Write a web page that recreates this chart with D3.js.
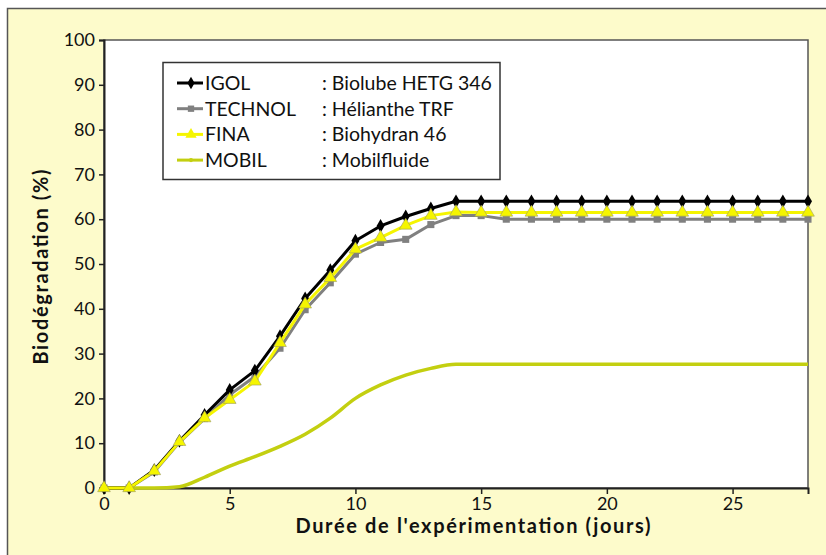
<!DOCTYPE html>
<html><head><meta charset="utf-8">
<script src="https://cdn.jsdelivr.net/npm/d3@7"></script>
<style>body{margin:0;background:#fff}svg{display:block}</style>
</head><body>
<svg id="c" width="826" height="555"></svg>
<script>
const days = d3.range(0, 29);
const igol    = [0,0,4,10.5,16.3,21.9,26.2,33.9,42.3,48.6,55.2,58.5,60.6,62.4,64,64,64,64,64,64,64,64,64,64,64,64,64,64,64];
const technol = [0,0,3.6,10.2,15.5,20.8,24.9,31.2,39.8,45.8,52.2,54.8,55.5,58.8,60.8,60.8,60,60,60,60,60,60,60,60,60,60,60,60,60];
const fina    = [0,0,3.8,10.3,15.6,19.7,23.8,32.4,41,46.9,53.3,55.9,58.6,60.8,61.6,61.5,61.5,61.5,61.5,61.5,61.5,61.5,61.5,61.5,61.5,61.5,61.5,61.5,61.5];
const mobil   = [0,0,0,0.3,2.4,4.9,7,9.3,12,15.6,20,23,25.2,26.7,27.6,27.6,27.6,27.6,27.6,27.6,27.6,27.6,27.6,27.6,27.6,27.6,27.6,27.6,27.6];
const names = ["IGOL","TECHNOL","FINA","MOBIL"];
const products = [": Biolube HETG 346",": Hélianthe TRF",": Biohydran 46",": Mobilfluide"];
const xTicks = [0,5,10,15,20,25];
const yTicks = [0,10,20,30,40,50,60,70,80,90,100];

const svg = d3.select("#c");
const FONT = "Lato, 'Open Sans', sans-serif";
svg.append("rect").attr("x",0).attr("y",0).attr("width",826).attr("height",555).attr("fill","#fff");
svg.append("rect").attr("x",7.5).attr("y",8.5).attr("width",830).attr("height",560)
  .attr("fill","#FDFBCB").attr("stroke","#555").attr("stroke-width",1.5);

const L=104,R=808,T=40,B=488;
const x = d3.scaleLinear().domain([0,28]).range([L,R]);
const y = d3.scaleLinear().domain([0,100]).range([B,T]);

svg.append("rect").attr("x",L).attr("y",T).attr("width",R-L).attr("height",B-T)
  .attr("fill","#fff").attr("stroke","#555").attr("stroke-width",1.5);

// axes
const gx = svg.append("g").attr("transform",`translate(0,${B})`)
  .call(d3.axisBottom(x).tickValues(xTicks).tickSize(6).tickPadding(3).tickFormat(d3.format("d")));
const gy = svg.append("g").attr("transform",`translate(${L},0)`)
  .call(d3.axisLeft(y).tickValues(yTicks).tickSize(5).tickPadding(4).tickFormat(d3.format("d")));
[gx,gy].forEach(g=>{
  g.select(".domain").attr("stroke","#222").attr("stroke-width",2);
  g.selectAll(".tick line").attr("stroke","#222").attr("stroke-width",1.5);
  g.selectAll("text").attr("font-family",FONT).attr("font-size",18).attr("fill","#111");
});

svg.append("text").attr("x",473).attr("y",533).attr("text-anchor","middle")
  .attr("font-family",FONT).attr("font-weight","bold").attr("font-size",20).attr("fill","#111")
  .attr("textLength",355).attr("lengthAdjust","spacing")
  .text("Durée de l'expérimentation (jours)");
svg.append("text").attr("transform",`translate(48,${(T+B)/2 + 3}) rotate(-90)`).attr("text-anchor","middle")
  .attr("font-family",FONT).attr("font-weight","bold").attr("font-size",20).attr("fill","#111")
  .attr("textLength",195).attr("lengthAdjust","spacing")
  .text("Biodégradation (%)");

const series = [
  {v:mobil, color:"#C3CF10", marker:null, curve:d3.curveMonotoneX, w:3.5},
  {v:technol, color:"#808080", marker:d3.symbolSquare, size:50, curve:d3.curveLinear, w:3},
  {v:igol, color:"#000000", marker:d3.symbolDiamond, size:55, curve:d3.curveLinear, w:3},
  {v:fina, color:"#F5F500", marker:d3.symbolTriangle, size:70, curve:d3.curveLinear, w:3},
];
const line = d3.line();
series.forEach(s=>{
  const pts = days.map((d,i)=>[x(d), y(s.v[i])]);
  svg.append("path").attr("d", line.curve(s.curve)(pts)).attr("fill","none")
    .attr("stroke",s.color).attr("stroke-width",s.w).attr("stroke-linejoin","round");
  if (s.marker) {
    svg.append("g").selectAll("path").data(pts).join("path")
      .attr("transform",d=>`translate(${d[0]},${d[1]})`)
      .attr("d", d3.symbol(s.marker, s.size)())
      .attr("fill",s.color)
      .attr("stroke", s.color==="#F5F500" ? "#9a9a60" : "none").attr("stroke-width",0.6);
  }
});

// legend
const lg = svg.append("g");
lg.append("rect").attr("x",163).attr("y",62.5).attr("width",337).attr("height",117)
  .attr("fill","#fff").attr("stroke","#333").attr("stroke-width",1.5);
const legColors = ["#000","#808080","#F5F500","#C3CF10"];
const legMarkers = [d3.symbolDiamond,d3.symbolSquare,d3.symbolTriangle,d3.symbolCircle];
const legSizes = [45,40,55,14];
names.forEach((n,i)=>{
  const cy = 83 + i*25.7;
  lg.append("line").attr("x1",177).attr("x2",203).attr("y1",cy).attr("y2",cy)
    .attr("stroke",legColors[i]).attr("stroke-width",3);
  lg.append("path").attr("transform",`translate(191,${cy})`).attr("d",d3.symbol(legMarkers[i],legSizes[i])()).attr("fill",legColors[i]);
  lg.append("text").attr("x",205).attr("y",cy).attr("dy","0.35em")
    .attr("font-family",FONT).attr("font-size",19.5).attr("fill","#111").text(n);
  lg.append("text").attr("x",322).attr("y",cy).attr("dy","0.35em")
    .attr("font-family",FONT).attr("font-size",19.5).attr("fill","#111").text(products[i]);
});
</script>
</body></html>
